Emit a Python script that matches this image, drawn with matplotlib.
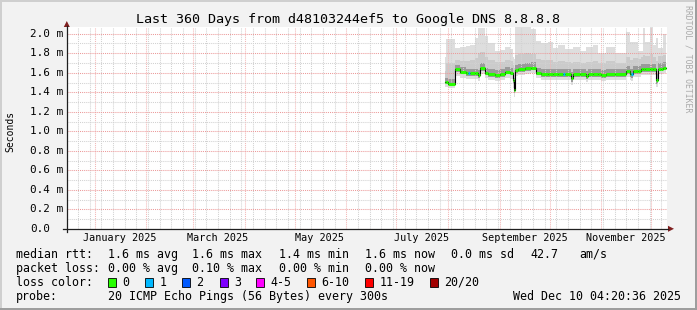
import numpy as np
import matplotlib
matplotlib.use('Agg')
import matplotlib.pyplot as plt
import matplotlib.dates as mdates
import matplotlib.transforms as mtrans
from matplotlib.ticker import MultipleLocator
from matplotlib.lines import Line2D
from matplotlib.patches import Rectangle, Polygon

W, H = 697, 310
MONO = 'DejaVu Sans Mono'

title = "Last 360 Days from d48103244ef5 to Google DNS 8.8.8.8"
t_start = np.datetime64('2024-12-15T04:20:36')
t_end = np.datetime64('2025-12-10T04:20:36')

# step segments (start of each segment), values in ms
seg_start = ['2025-07-30', '2025-07-31', '2025-08-01', '2025-08-05', '2025-08-08',
             '2025-08-12', '2025-08-13', '2025-08-14', '2025-08-17', '2025-08-19',
             '2025-08-20', '2025-08-23', '2025-08-25', '2025-08-29', '2025-09-01',
             '2025-09-04', '2025-09-07', '2025-09-09', '2025-09-09T12', '2025-09-10T12',
             '2025-09-12', '2025-09-16', '2025-09-20', '2025-09-23', '2025-09-26',
             '2025-09-30', '2025-10-03', '2025-10-06', '2025-10-09', '2025-10-10',
             '2025-10-14', '2025-10-15', '2025-10-19', '2025-10-23', '2025-10-24',
             '2025-10-27', '2025-10-30', '2025-11-01', '2025-11-04', '2025-11-09',
             '2025-11-16', '2025-11-18', '2025-11-19', '2025-11-20', '2025-11-23',
             '2025-11-25', '2025-11-26', '2025-11-27', '2025-11-30', '2025-12-02',
             '2025-12-04', '2025-12-05', '2025-12-07', '2025-12-08']
median = [1.51, 1.51, 1.49, 1.635, 1.611, 1.594, 1.594, 1.594, 1.594, 1.577,
          1.645, 1.60, 1.587, 1.577, 1.587, 1.611, 1.60, 1.526, 1.423, 1.628,
          1.635, 1.645, 1.652, 1.60, 1.587, 1.587, 1.587, 1.587, 1.587, 1.587,
          1.545, 1.587, 1.587, 1.57, 1.587, 1.587, 1.587, 1.577, 1.587, 1.587,
          1.618, 1.587, 1.587, 1.618, 1.618, 1.635, 1.635, 1.635, 1.635, 1.635,
          1.526, 1.642, 1.642, 1.652]
loss = [0, 0, 0, 0, 0, 0, 1, 0, 0, 0,
        0, 0, 0, 0, 0, 0, 0, 0, 0, 0,
        0, 0, 0, 0, 0, 0, 0, 0, 1, 0,
        0, 0, 0, 0, 0, 0, 0, 0, 0, 0,
        0, 0, 1, 0, 0, 0, 0, 0, 0, 0,
        0, 0, 0, 0]
smoke_max = [1.76, 1.95, 1.95, 1.85, 1.86, 1.87, 1.87, 1.88, 1.96, 2.06,
             2.06, 1.98, 1.90, 1.82, 1.83, 1.86, 1.84, 1.76, 1.74, 2.07,
             2.07, 2.07, 2.05, 1.93, 1.90, 1.92, 1.85, 1.88, 1.88, 1.84,
             1.84, 1.86, 1.82, 1.86, 1.86, 1.88, 1.80, 1.80, 1.86, 1.80,
             2.02, 1.92, 1.92, 1.92, 1.82, 1.82, 2.06, 1.92, 2.07, 1.88,
             1.96, 1.85, 1.85, 2.00]
smoke_p90 = [1.62, 1.70, 1.70, 1.73, 1.72, 1.72, 1.72, 1.73, 1.75, 1.80,
             1.81, 1.76, 1.73, 1.71, 1.71, 1.73, 1.72, 1.68, 1.65, 1.78,
             1.79, 1.80, 1.79, 1.74, 1.73, 1.73, 1.71, 1.72, 1.72, 1.71,
             1.70, 1.71, 1.70, 1.71, 1.71, 1.72, 1.70, 1.70, 1.72, 1.70,
             1.76, 1.73, 1.73, 1.75, 1.74, 1.76, 1.78, 1.77, 1.79, 1.76,
             1.72, 1.77, 1.77, 1.78]
smoke_hi = [1.55, 1.55, 1.54, 1.68, 1.66, 1.64, 1.64, 1.64, 1.64, 1.63,
            1.70, 1.65, 1.64, 1.63, 1.64, 1.66, 1.65, 1.60, 1.55, 1.68,
            1.69, 1.70, 1.71, 1.65, 1.64, 1.64, 1.64, 1.64, 1.64, 1.64,
            1.61, 1.64, 1.64, 1.62, 1.64, 1.64, 1.64, 1.63, 1.64, 1.64,
            1.67, 1.64, 1.64, 1.67, 1.67, 1.69, 1.69, 1.69, 1.69, 1.69,
            1.60, 1.70, 1.70, 1.71]
smoke_lo = [1.48, 1.48, 1.47, 1.61, 1.59, 1.57, 1.57, 1.57, 1.57, 1.55,
            1.62, 1.58, 1.56, 1.55, 1.56, 1.59, 1.58, 1.49, 1.39, 1.60,
            1.61, 1.62, 1.63, 1.58, 1.56, 1.56, 1.56, 1.56, 1.56, 1.56,
            1.51, 1.56, 1.56, 1.54, 1.56, 1.56, 1.56, 1.55, 1.56, 1.56,
            1.59, 1.56, 1.55, 1.59, 1.59, 1.61, 1.61, 1.61, 1.61, 1.61,
            1.49, 1.62, 1.62, 1.63]
smoke_min = [1.45, 1.45, 1.44, 1.57, 1.55, 1.54, 1.54, 1.54, 1.54, 1.52,
             1.59, 1.55, 1.53, 1.52, 1.53, 1.55, 1.54, 1.44, 1.35, 1.57,
             1.58, 1.59, 1.60, 1.55, 1.53, 1.53, 1.53, 1.53, 1.53, 1.53,
             1.47, 1.53, 1.53, 1.51, 1.53, 1.53, 1.53, 1.52, 1.53, 1.53,
             1.56, 1.53, 1.52, 1.56, 1.56, 1.58, 1.58, 1.58, 1.58, 1.58,
             1.45, 1.59, 1.59, 1.60]

y_ticks = [0.0, 0.2, 0.4, 0.6, 0.8, 1.0, 1.2, 1.4, 1.6, 1.8, 2.0]
y_labels = ['0.0', '0.2 m', '0.4 m', '0.6 m', '0.8 m', '1.0 m',
            '1.2 m', '1.4 m', '1.6 m', '1.8 m', '2.0 m']
month_labels = ['January 2025', 'March 2025', 'May 2025',
                'July 2025', 'September 2025', 'November 2025']
month_starts = ['2025-01-01', '2025-03-01', '2025-05-01',
                '2025-07-01', '2025-09-01', '2025-11-01']

rtt_text = ['1.6 ms avg', '1.6 ms max', '1.4 ms min', '1.6 ms now', '0.0 ms sd', '42.7', 'am/s']
rtt_x = [107.5, 192.4, 279, 365, 451, 530, 579]
pl_text = ['0.00 % avg', '0.10 % max', '0.00 % min', '0.00 % now']
pl_x = [107.5, 192.4, 279, 365]
loss_names = ['0', '1', '2', '3', '4-5', '6-10', '11-19', '20/20']
loss_palette = ['#26ff00', '#00b8ff', '#0059ff', '#7e00ff', '#ff00ff', '#ff5500', '#ff0000', '#a10000']
box_x = [108, 145, 182, 219.5, 256.4, 307, 365, 430]
probe_text = '20 ICMP Echo Pings (56 Bytes) every 300s'
stamp = 'Wed Dec 10 04:20:36 2025'


def fx(x):
    return x / W


def fy(y):
    return 1 - y / H


fig = plt.figure(figsize=(W / 100, H / 100), dpi=100, facecolor='#f2f2f2')

# 3d-ish frame like rrdtool
fig.add_artist(Rectangle((0, 0), fx(2), 1, transform=fig.transFigure, color='#cfcfcf', lw=0))
fig.add_artist(Rectangle((0, fy(2)), 1, 2 / H, transform=fig.transFigure, color='#cfcfcf', lw=0))
fig.add_artist(Rectangle((fx(695), 0), 2 / W, 1, transform=fig.transFigure, color='#9e9e9e', lw=0))
fig.add_artist(Rectangle((0, 0), 1, 2 / H, transform=fig.transFigure, color='#9e9e9e', lw=0))

y0, y2 = 229.0, 33.7
ppm = (y0 - y2) / 2.0
top_px = 27
ax = fig.add_axes([fx(66.5), fy(y0), 600 / W, (y0 - top_px) / H])
ax.set_facecolor('white')
for s in ax.spines.values():
    s.set_visible(False)

x0n, x1n = mdates.date2num(t_start), mdates.date2num(t_end)
ax.set_xlim(x0n, x1n)
ax.set_ylim(0, (y0 - top_px) / ppm)

ax.yaxis.set_major_locator(MultipleLocator(0.2))
ax.yaxis.set_minor_locator(MultipleLocator(0.1))
ax.xaxis.set_major_locator(mdates.MonthLocator())
ax.xaxis.set_minor_locator(mdates.WeekdayLocator(byweekday=mdates.SU))
ax.tick_params(which='both', length=0, labelbottom=False, labelleft=False)
ax.set_axisbelow(False)
dot = (0, (1, 1))
ax.grid(which='minor', axis='both', color='#d2d2d2', lw=0.75, linestyle=dot)
ax.grid(which='major', axis='y', color='#ec9a9a', lw=0.75, linestyle=dot)
ax.grid(which='major', axis='x', color='#f3b6b6', lw=0.75, linestyle=dot)

# smoke + median
starts = np.array(seg_start, dtype='datetime64[m]')
edges = mdates.date2num(np.append(starts, t_end.astype('datetime64[m]')))


def stepped(v):
    return np.append(v, v[-1])


ax.fill_between(edges, stepped(smoke_min), stepped(smoke_max), step='post',
                color='#dedede', lw=0, zorder=1)
ax.fill_between(edges, stepped(smoke_lo), stepped(smoke_p90), step='post',
                color='#cbcbcb', lw=0, zorder=1.1)
ax.fill_between(edges, stepped(smoke_lo), stepped(smoke_hi), step='post',
                color='#9a9a9a', lw=0, zorder=1.2)
ax.step(edges, stepped(median), where='post', color='black', lw=0.8, zorder=3)
ax.hlines(median, edges[:-1], edges[1:], colors=[loss_palette[l] for l in loss],
          lw=2.2, zorder=4, capstyle='butt')

# axes lines and arrows
axis_col = '#1f1f1f'
arrow_col = '#801f1f'
fig.add_artist(Line2D([fx(63), fx(668)], [fy(228.8), fy(228.8)], transform=fig.transFigure,
                      color=axis_col, lw=0.9))
fig.add_artist(Line2D([fx(66.8), fx(66.8)], [fy(232), fy(26)], transform=fig.transFigure,
                      color=axis_col, lw=0.9))
fig.add_artist(Polygon([(fx(668), fy(225.8)), (fx(668), fy(231.8)), (fx(674), fy(228.8))],
                       closed=True, transform=fig.transFigure, color=arrow_col, lw=0))
fig.add_artist(Polygon([(fx(63.8), fy(27)), (fx(69.8), fy(27)), (fx(66.8), fy(21))],
                       closed=True, transform=fig.transFigure, color=arrow_col, lw=0))

# y tick labels
ytr = mtrans.blended_transform_factory(fig.transFigure, ax.transData)
for v, lab in zip(y_ticks, y_labels):
    fig.text(fx(30), v, lab, transform=ytr, ha='left', va='center',
             family=MONO, fontsize=7.9, color='black')

# month labels, centred half a month after the month start
xtr = mtrans.blended_transform_factory(ax.transData, fig.transFigure)
for d, lab in zip(month_starts, month_labels):
    xc = mdates.date2num(np.datetime64(d) + np.timedelta64(15, 'D'))
    fig.text(xc, fy(237.7), lab, transform=xtr, ha='center', va='center',
             family=MONO, fontsize=7.3, color='black')

fig.text(fx(348), fy(19.5), title, ha='center', va='center', family=MONO, fontsize=9.6)
fig.text(fx(10), fy(131), 'Seconds', rotation=90, ha='center', va='center',
         family=MONO, fontsize=7.0)
fig.text(fx(688), fy(5), 'RRDTOOL / TOBI OETIKER', rotation=270, ha='center', va='top',
         family=MONO, fontsize=5.9, color='#aaaaaa')

# legend rows
LEG = 8.4
r1, r2, r3, r4 = 254.3, 268.3, 282.3, 296.3
fig.text(fx(16), fy(r1), 'median rtt:', ha='left', va='center', family=MONO, fontsize=LEG)
for t, x in zip(rtt_text, rtt_x):
    fig.text(fx(x), fy(r1), t, ha='left', va='center', family=MONO, fontsize=LEG)
fig.text(fx(16), fy(r2), 'packet loss:', ha='left', va='center', family=MONO, fontsize=LEG)
for t, x in zip(pl_text, pl_x):
    fig.text(fx(x), fy(r2), t, ha='left', va='center', family=MONO, fontsize=LEG)
fig.text(fx(16), fy(r3), 'loss color:', ha='left', va='center', family=MONO, fontsize=LEG)
for name, col, bx in zip(loss_names, loss_palette, box_x):
    fig.add_artist(Rectangle((fx(bx), fy(r3 + 4.6)), 8 / W, 9.3 / H, transform=fig.transFigure,
                             facecolor=col, edgecolor='black', lw=0.6))
    fig.text(fx(bx + 14.5), fy(r3), name, ha='left', va='center', family=MONO, fontsize=LEG)
fig.text(fx(16), fy(r4), 'probe:', ha='left', va='center', family=MONO, fontsize=LEG)
fig.text(fx(107.5), fy(r4), probe_text, ha='left', va='center', family=MONO, fontsize=LEG)
fig.text(fx(681), fy(r4), stamp, ha='right', va='center', family=MONO, fontsize=LEG)

fig.savefig('out.png', dpi=100, facecolor=fig.get_facecolor())
